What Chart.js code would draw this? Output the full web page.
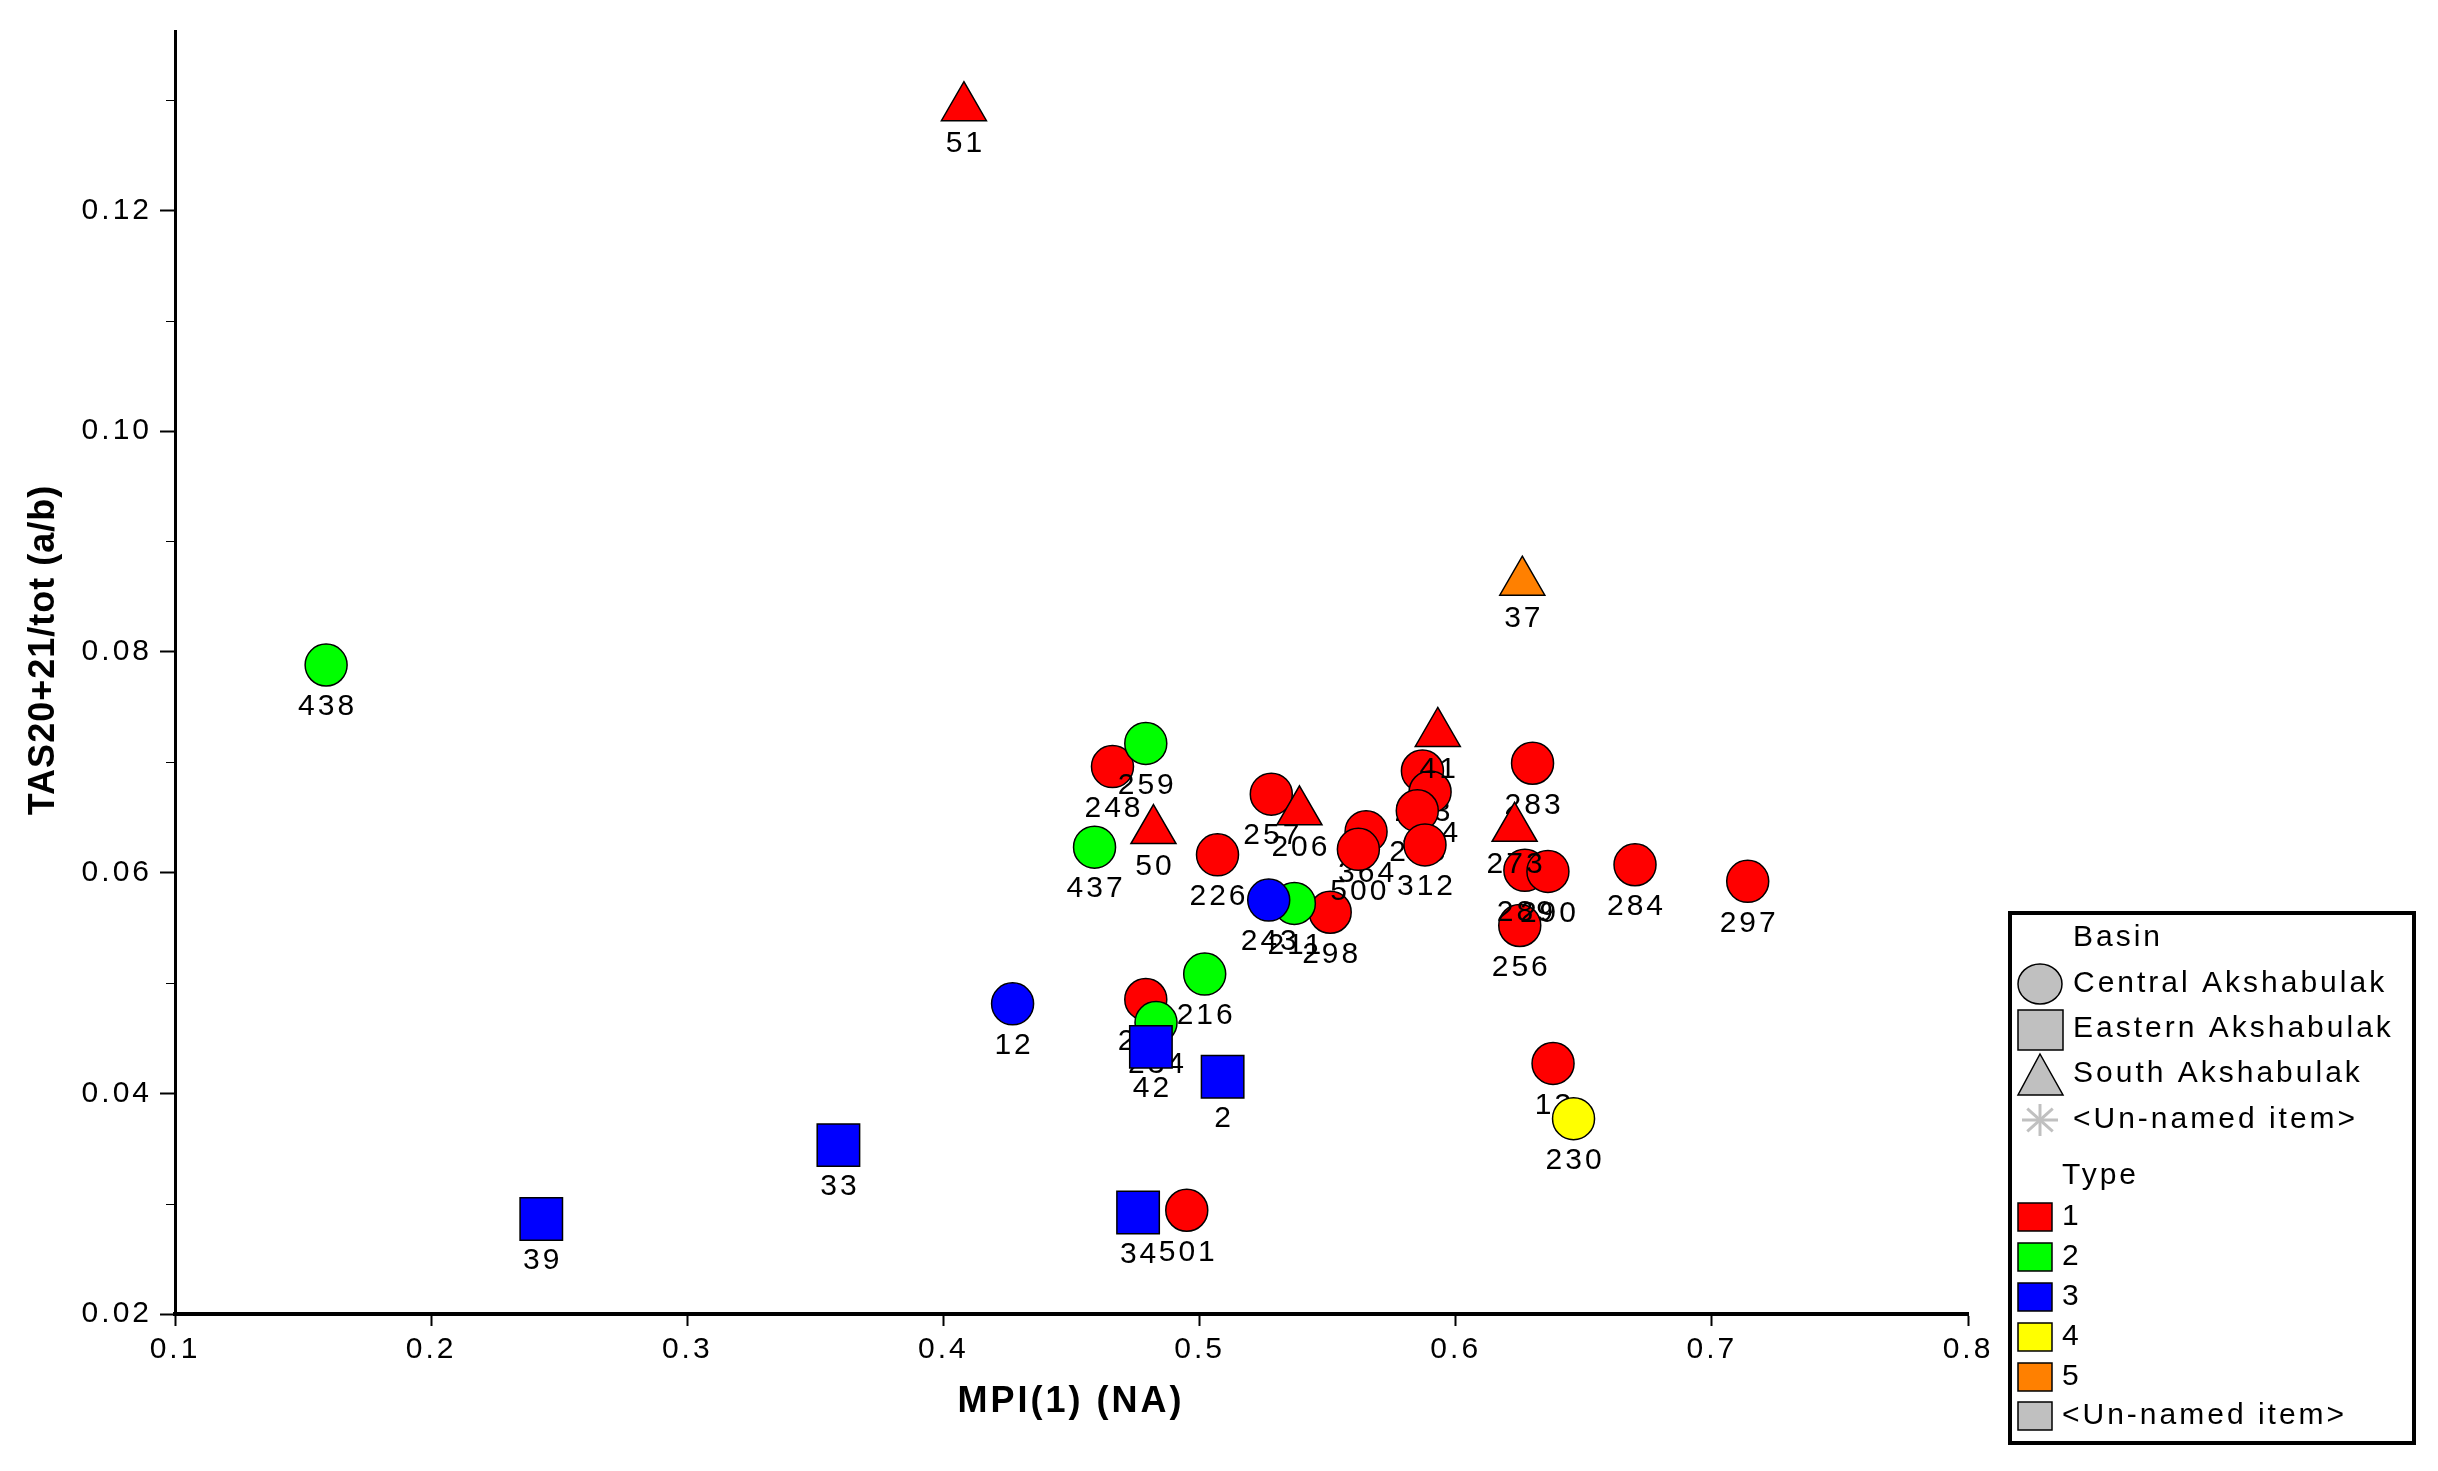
<!DOCTYPE html>
<html>
<head>
<meta charset="utf-8">
<title>MPI(1) vs TAS20+21/tot</title>
<script src="https://cdn.jsdelivr.net/npm/chart.js@4.4.1/dist/chart.umd.min.js"></script>
<style>
  html, body { margin: 0; padding: 0; background: #fff; }
  #wrap { width: 2438px; height: 1471px; position: relative; }
</style>
</head>
<body>
<div id="wrap"><canvas id="my-chart"></canvas></div>
<script>
'use strict';

// ************* Data **************
let sampleIds = ['51', '37', '438', '41', '259', '248', '283', '203', '214', '257',
  '206', '225', '50', '273', '364', '500', '312', '437', '226', '289',
  '290', '284', '297', '243', '211', '298', '256', '216', '12', '239',
  '234', '42', '2', '13', '230', '33', '34', '501', '39'];

let mpiValues = [0.408, 0.626, 0.159, 0.593, 0.479, 0.466, 0.630, 0.587, 0.590, 0.528,
  0.539, 0.585, 0.482, 0.623, 0.565, 0.562, 0.588, 0.459, 0.507, 0.627,
  0.636, 0.670, 0.714, 0.527, 0.537, 0.551, 0.625, 0.502, 0.427, 0.479,
  0.483, 0.481, 0.509, 0.638, 0.646, 0.359, 0.476, 0.495, 0.243];

let tasValues = [0.1293, 0.0863, 0.0788, 0.0726, 0.0717, 0.0696, 0.0699, 0.0692, 0.0673, 0.0671,
  0.0655, 0.0656, 0.0638, 0.0640, 0.0637, 0.0621, 0.0625, 0.0623, 0.0616, 0.0602,
  0.0601, 0.0607, 0.0592, 0.0575, 0.0572, 0.0564, 0.0552, 0.0508, 0.0481, 0.0485,
  0.0464, 0.0442, 0.0415, 0.0427, 0.0377, 0.0353, 0.0292, 0.0294, 0.0286];

// C = Central, E = Eastern, S = South Akshabulak
let basinOf = ['S', 'S', 'C', 'S', 'C', 'C', 'C', 'C', 'C', 'C',
  'S', 'C', 'S', 'S', 'C', 'C', 'C', 'C', 'C', 'C',
  'C', 'C', 'C', 'C', 'C', 'C', 'C', 'C', 'C', 'C',
  'C', 'E', 'E', 'C', 'C', 'E', 'E', 'C', 'E'];

let typeOf = [1, 5, 2, 1, 2, 1, 1, 1, 1, 1,
  1, 1, 1, 1, 1, 1, 1, 2, 1, 1,
  1, 1, 1, 3, 2, 1, 1, 2, 3, 1,
  2, 3, 3, 1, 4, 3, 3, 1, 3];

let xTicks = [0.1, 0.2, 0.3, 0.4, 0.5, 0.6, 0.7, 0.8];
let yTicks = [0.02, 0.03, 0.04, 0.05, 0.06, 0.07, 0.08, 0.09, 0.10, 0.11, 0.12, 0.13];

let basinNames = ['Central Akshabulak', 'Eastern Akshabulak', 'South Akshabulak', '<Un-named item>'];
let typeNames = ['1', '2', '3', '4', '5', '<Un-named item>'];
let typeColors = ['#ff0000', '#00ff00', '#0000ff', '#ffff00', '#ff8000', '#c0c0c0'];


// ************** Helpers *************
const FONT = '"Liberation Sans", Arial, sans-serif';

let styleFor = { C: 'circle', E: 'rect', S: 'triangle' };
let radiusFor = { C: 21, E: 30, S: 26 };
let basinRank = { C: 0, E: 1, S: 2 };

function isLabelled(v){
  return Math.round(v * 100) % 2 === 0;
}

// one dataset per sample so each label is painted right after its own marker
// (later markers then cover earlier labels, like the original plot)
function buildDatasets(){
  let idx = sampleIds.map((id, i) => i);
  idx.sort((a, b) => (basinRank[basinOf[a]] - basinRank[basinOf[b]]) ||
    (typeOf[a] - typeOf[b]) ||
    (Number(sampleIds[a]) - Number(sampleIds[b])));

  return idx.map((i, rank) => {
    let b = basinOf[i];
    return {
      label: sampleIds[i],
      basin: b,
      data: [{ x: mpiValues[i], y: tasValues[i] }],
      order: sampleIds.length - rank,
      pointStyle: styleFor[b],
      pointRadius: radiusFor[b],
      pointHoverRadius: radiusFor[b],
      backgroundColor: typeColors[typeOf[i] - 1],
      borderColor: '#000',
      pointBorderWidth: 1.5
    };
  });
}


// ************** Plugins *************
const textSpacing = {
  id: 'textSpacing',
  beforeUpdate(chart){ chart.ctx.letterSpacing = '3px'; },
  beforeDraw(chart){ chart.ctx.letterSpacing = '3px'; }
};

const pointLabels = {
  id: 'pointLabels',
  afterDatasetDraw(chart, args){
    let ds = chart.data.datasets[args.index];
    let pt = args.meta.data[0];
    if (!pt) return;
    let ctx = chart.ctx;
    ctx.save();
    ctx.font = '30px ' + FONT;
    ctx.letterSpacing = '3px';
    ctx.fillStyle = '#000';
    ctx.textAlign = 'center';
    ctx.textBaseline = 'middle';
    let off = ds.basin === 'S' ? 36 : 42;
    ctx.fillText(ds.label, pt.x + 1.5, pt.y + off);
    ctx.restore();
  }
};

const extras = {
  id: 'extras',
  afterDraw(chart){
    let ctx = chart.ctx;
    let area = chart.chartArea;
    let yScale = chart.scales.y;
    ctx.save();

    // minor ticks on the y axis
    ctx.strokeStyle = '#000';
    ctx.lineWidth = 1;
    yTicks.forEach(v => {
      if (isLabelled(v)) return;
      let py = Math.round(yScale.getPixelForValue(v)) + 0.5;
      ctx.beginPath();
      ctx.moveTo(area.left - 9, py);
      ctx.lineTo(area.left, py);
      ctx.stroke();
    });

    // axis titles
    ctx.fillStyle = '#000';
    ctx.font = 'bold 36px ' + FONT;
    ctx.textAlign = 'center';
    ctx.textBaseline = 'middle';
    ctx.letterSpacing = '3px';
    ctx.fillText('MPI(1) (NA)', 1071, 1402);
    ctx.letterSpacing = '1px';
    ctx.save();
    ctx.translate(44, 650);
    ctx.rotate(-Math.PI / 2);
    ctx.fillText('TAS20+21/tot (a/b)', 0, 0);
    ctx.restore();

    // legend box
    ctx.strokeStyle = '#000';
    ctx.lineWidth = 4;
    ctx.strokeRect(2010, 913, 404, 530);

    ctx.font = '30px ' + FONT;
    ctx.letterSpacing = '3px';
    ctx.textAlign = 'left';
    ctx.fillText('Basin', 2073, 938);

    let gray = '#c0c0c0';
    ctx.fillStyle = gray;
    ctx.lineWidth = 1.5;
    // circle
    ctx.beginPath();
    ctx.ellipse(2040, 984, 22, 20, 0, 0, Math.PI * 2);
    ctx.fill();
    ctx.stroke();
    // square
    ctx.fillRect(2018, 1010, 45, 40);
    ctx.strokeRect(2018, 1010, 45, 40);
    // triangle
    ctx.beginPath();
    ctx.moveTo(2040, 1054);
    ctx.lineTo(2063, 1095);
    ctx.lineTo(2018, 1095);
    ctx.closePath();
    ctx.fill();
    ctx.stroke();
    // asterisk
    ctx.strokeStyle = gray;
    ctx.lineWidth = 3;
    for (let k = 0; k < 4; k++){
      let a = k * Math.PI / 4;
      ctx.beginPath();
      ctx.moveTo(2040 - 18 * Math.cos(a), 1120 - 16 * Math.sin(a));
      ctx.lineTo(2040 + 18 * Math.cos(a), 1120 + 16 * Math.sin(a));
      ctx.stroke();
    }

    ctx.fillStyle = '#000';
    let basinRows = [984, 1029, 1074, 1120];
    basinNames.forEach((name, k) => ctx.fillText(name, 2073, basinRows[k]));

    ctx.fillText('Type', 2062, 1176);
    let typeRows = [1217, 1257, 1297, 1337, 1377, 1416];
    ctx.strokeStyle = '#000';
    ctx.lineWidth = 1.5;
    typeNames.forEach((name, k) => {
      ctx.fillStyle = typeColors[k];
      ctx.fillRect(2018, typeRows[k] - 14, 34, 28);
      ctx.strokeRect(2018, typeRows[k] - 14, 34, 28);
      ctx.fillStyle = '#000';
      ctx.fillText(name, 2062, typeRows[k]);
    });

    ctx.restore();
  }
};


// ***************** Chart *********************
let canvasElem = document.getElementById('my-chart');

Chart.defaults.font.family = FONT;
Chart.defaults.color = '#000';

new Chart(canvasElem, {
  type: 'scatter',
  data: { datasets: buildDatasets() },
  options: {
    responsive: true,
    maintainAspectRatio: false,
    animation: false,
    events: [],
    layout: { padding: { left: 0, top: 30, right: 470, bottom: 0 } },
    plugins: {
      legend: { display: false },
      tooltip: { enabled: false }
    },
    scales: {
      x: {
        type: 'linear',
        min: 0.1,
        max: 0.8,
        afterBuildTicks: scale => { scale.ticks = xTicks.map(v => ({ value: v })); },
        afterFit: scale => { scale.height = 157; },
        ticks: {
          font: { size: 30 },
          padding: 6,
          maxRotation: 0,
          callback: v => v.toFixed(1)
        },
        grid: {
          drawOnChartArea: false,
          tickLength: 12,
          tickWidth: 2,
          tickColor: '#000'
        },
        border: { color: '#000', width: 4 }
      },
      y: {
        type: 'linear',
        min: 0.02,
        max: 0.1362,
        afterBuildTicks: scale => { scale.ticks = yTicks.map(v => ({ value: v })); },
        afterFit: scale => { scale.width = 175; },
        ticks: {
          font: { size: 30 },
          padding: 8,
          callback: v => isLabelled(v) ? v.toFixed(2) : ''
        },
        grid: {
          drawOnChartArea: false,
          tickLength: 15,
          tickWidth: 2,
          tickColor: ctx => (ctx.tick && isLabelled(ctx.tick.value)) ? '#000' : 'rgba(0,0,0,0)'
        },
        border: { color: '#000', width: 3 }
      }
    }
  },
  plugins: [textSpacing, pointLabels, extras]
});
</script>
</body>
</html>
